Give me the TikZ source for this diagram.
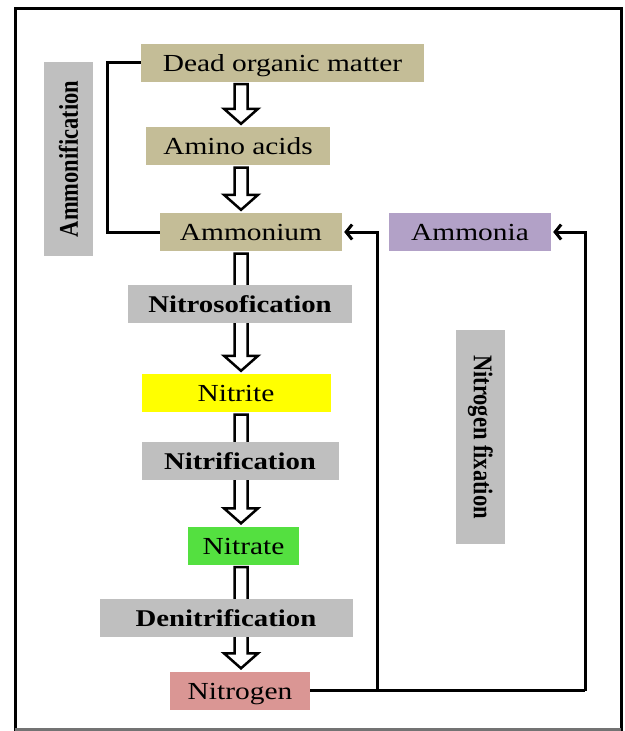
\documentclass[tikz,border=0pt]{standalone}
\usepackage{fontspec}
\usepackage{graphicx}
\setmainfont{Liberation Serif}[FakeStretch=1.2]
\newfontfamily\sidefont{Liberation Serif}
\usetikzlibrary{arrows.meta,calc,positioning}
\definecolor{tanbox}{RGB}{196,189,151}
\definecolor{graybox}{RGB}{191,191,191}
\definecolor{lilac}{RGB}{178,161,199}
\definecolor{lemon}{RGB}{255,255,0}
\definecolor{grass}{RGB}{84,224,64}
\definecolor{rose}{RGB}{218,150,148}

\begin{document}
\begin{tikzpicture}[x=1pt,y=-1pt,
  pool/.style={fill=#1,inner sep=0pt,minimum height=38pt,text height=17pt,text depth=0pt,
    font=\fontsize{24.5}{28}\selectfont},
  process/.style={fill=graybox,inner sep=0pt,minimum height=38pt,text height=17pt,text depth=0pt,
    font=\fontsize{24}{28}\selectfont\bfseries},
  side/.style={fill=graybox,inner sep=0pt,minimum height=49pt,font=\fontsize{22.5}{26}\sidefont\bfseries},
  link/.style={line width=3pt},
  tip/.style={-{Straight Barb[length=6pt,width=15pt]},shorten >=2pt},
  hollow/.style={draw,line width=2.5pt,fill=white,
    to path={let \p1=(\tikztostart), \p2=(\tikztotarget) in
      (\x1-6.5pt,\y1-2.5pt) -- (\x1-6.5pt,\y2+18pt) -- (\x1-17pt,\y2+18pt) -- (\x1,\y2+3pt)
      -- (\x1+17pt,\y2+18pt) -- (\x1+6.5pt,\y2+18pt) -- (\x1+6.5pt,\y1-2.5pt) -- cycle}}]
  \useasboundingbox (0,0) rectangle (624,731);
  \draw[line width=3pt] (15,8.5) |- (621,729) |- cycle;
  \draw[line width=3pt,black!55] (15,729) -- (621,729);

  % substances
  \node[pool=tanbox,minimum width=283pt] (dom) at (282.5,62.5) {Dead organic matter};
  \node[pool=tanbox,minimum width=184pt] (amino) at (238,146) {Amino acids};
  \node[pool=tanbox,minimum width=182pt] (ammonium) at (251,232) {Ammonium};
  \node[pool=lilac,minimum width=162pt] (ammonia) at (470,232) {Ammonia};
  \node[pool=lemon,minimum width=189pt] (nitrite) at (236,393) {Nitrite};
  \node[pool=grass,minimum width=111pt] (nitrate) at (243.5,545.5) {Nitrate};
  \node[pool=rose,minimum width=140pt] (nitrogen) at (240,690.5) {Nitrogen};

  % big arrows down the chain
  \coordinate (axis) at (241,0);
  \foreach \a/\b in {dom/amino,amino/ammonium,ammonium/nitrite,nitrite/nitrate,nitrate/nitrogen}
    \draw[hollow] (\a.south -| axis) to (\b.north -| axis);

  % processes
  \node[process,minimum width=224pt] (nitroso) at (240,304) {Nitrosofication};
  \node[process,minimum width=197pt] (nitrif) at (240,461) {Nitrification};
  \node[process,minimum width=253pt] (denitrif) at (226,618) {Denitrification};
  \node[side,rotate=90,minimum width=194pt] (ammonif) at (68.5,159) {\scalebox{1}[1.2]{Ammonification}};
  \node[side,rotate=-90,minimum width=214pt] (fixation) at (480.5,437) {\scalebox{1}[1.2]{Nitrogen fixation}};

  % loops back
  \draw[link] (dom.west) -- ++(-33,0) |- (ammonium.west);
  \coordinate (fork) at (377,690.5);
  \coordinate (corner) at (585,690.5);
  \draw[link] (nitrogen.east) -- (corner);
  \draw[link,tip] (fork) |- (ammonium.east);
  \draw[link,tip] (corner) |- (ammonia.east);
\end{tikzpicture}
\end{document}
